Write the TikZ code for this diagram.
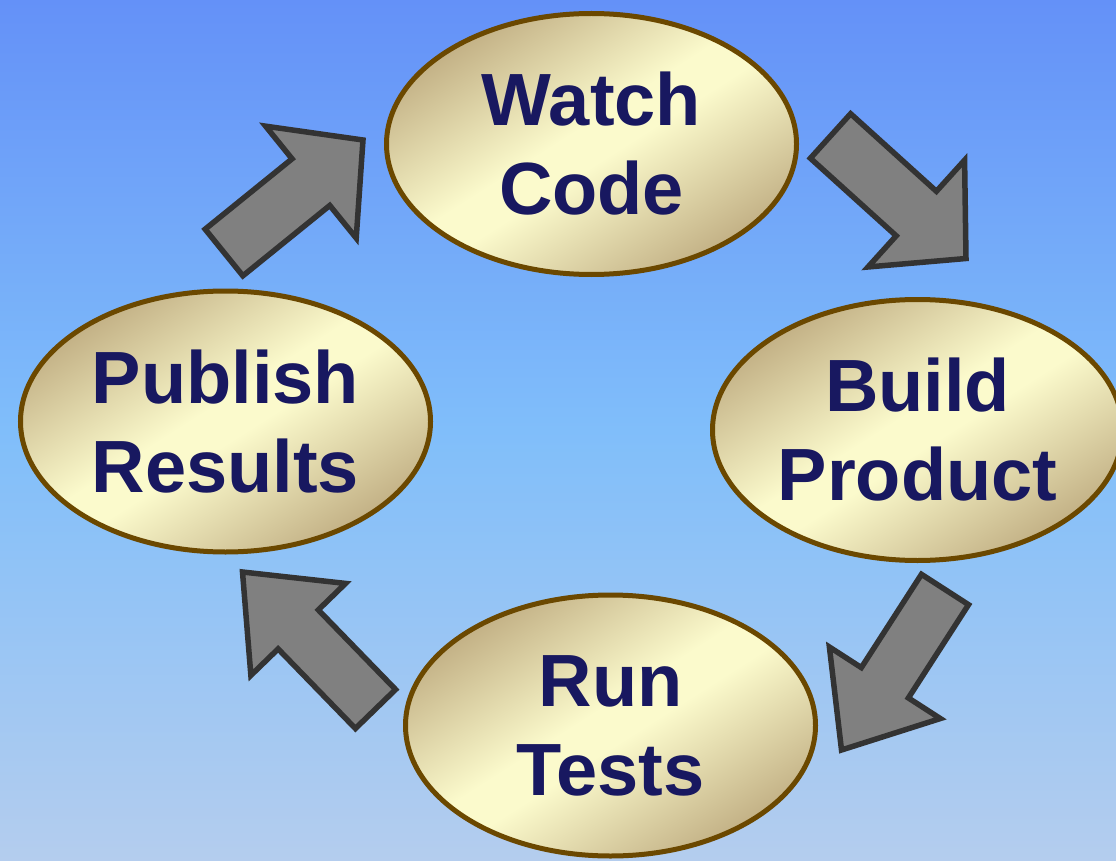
\documentclass[tikz,border=0pt]{standalone}
\usepackage{fontspec}
\setmainfont{Liberation Sans}
\usetikzlibrary{shapes.geometric,calc}

\definecolor{skytop}{RGB}{100,145,248}
\definecolor{skymid}{RGB}{128,190,250}
\definecolor{skybot}{RGB}{180,205,238}
\definecolor{cream}{RGB}{251,250,204}
\definecolor{tan}{RGB}{128,90,50}
\definecolor{rim}{RGB}{107,72,0}
\definecolor{navy}{RGB}{24,24,96}
\definecolor{arrowgray}{RGB}{128,128,128}
\definecolor{arrowrim}{RGB}{51,51,51}

\pgfdeclareverticalshading{oval}{100bp}{color(0bp)=(tan); color(47bp)=(cream); color(53bp)=(cream); color(100bp)=(tan)}

% block arrow: tail, tip, half shaft, half head, head length
\newcommand{\blockarrow}[5]{%
  \coordinate (neck) at ($(#2)!#5!(#1)$);
  \draw[cyclearrow] ($(#1)!#3!90:(#2)$) -- ($(neck)!#3!90:(#2)$)
    -- ($(neck)!#4!90:(#2)$) -- (#2) -- ($(neck)!#4!-90:(#2)$)
    -- ($(neck)!#3!-90:(#2)$) -- ($(#1)!#3!-90:(#2)$) -- cycle;}

\begin{document}
\begin{tikzpicture}
[x=1pt, y=-1pt,
stage/.style={ellipse, draw=rim, line width=5pt, outer sep=0pt, inner sep=0pt,
  minimum width=410pt, minimum height=261pt, align=center, text=navy,
  font=\fontsize{74}{89}\selectfont\bfseries,
  shade, shading=oval, shading angle=32.5},
cyclearrow/.style={fill=arrowgray, draw=arrowrim, line width=5.5pt, miter limit=10},
]

\useasboundingbox (0,0) rectangle (1116,861);
\clip (0,0) rectangle (1116,861);
\shade[top color=skytop, bottom color=skybot, middle color=skymid] (0,0) rectangle (1116,861);

\node[stage] (watch) at (591.5,144) {Watch\\Code};
\node[stage] (build) at (917.5,430) {Build\\Product};
\node[stage] (tests) at (610.5,725.5) {Run\\Tests};
\node[stage] (publish) at (225.5,421.5) {Publish\\Results};

\coordinate (a1s) at ($(watch.east)+(34,-8)$);
\coordinate (a1e) at ($(build.north)+(48.5,-41)$);
\coordinate (a2s) at ($(build.south)+(27.5,29)$);
\coordinate (a2e) at ($(tests.east)+(26,24.5)$);
\coordinate (a3s) at ($(tests.west)+(-30,-16.5)$);
\coordinate (a3e) at ($(publish.south)+(17,20)$);
\coordinate (a4s) at ($(publish.north)+(-1.5,-38.5)$);
\coordinate (a4e) at ($(watch.west)+(-23.5,-4)$);

\blockarrow{a1s}{a1e}{30pt}{72pt}{67pt}
\blockarrow{a2s}{a2e}{28pt}{66pt}{80pt}
\blockarrow{a3s}{a3e}{28pt}{66pt}{80pt}
\blockarrow{a4s}{a4e}{30pt}{72pt}{67pt}
\end{tikzpicture}
\end{document}
